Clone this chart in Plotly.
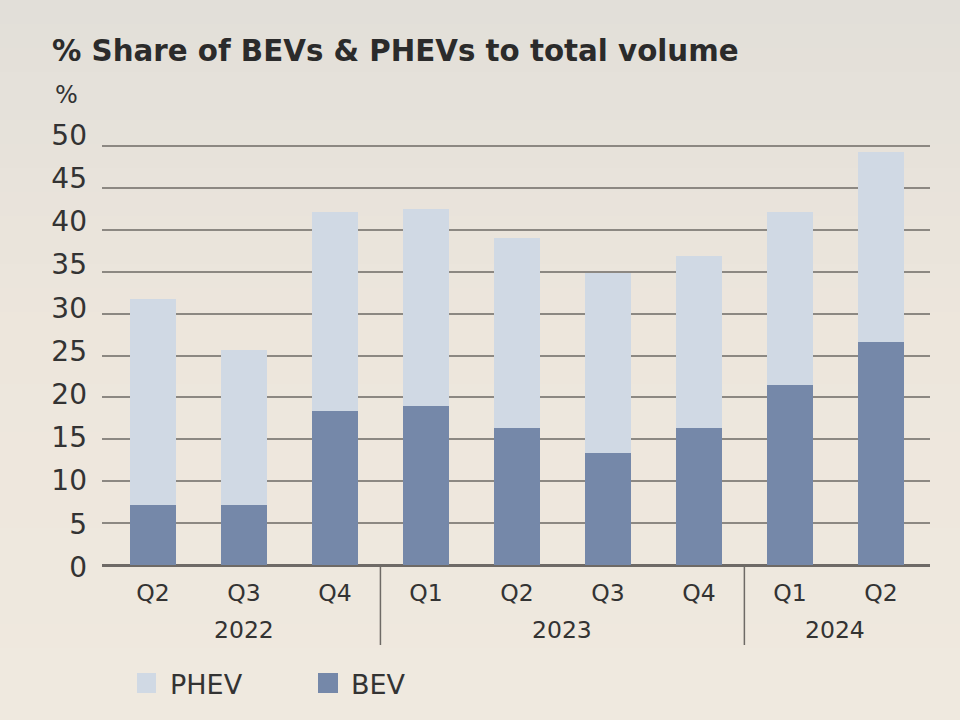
import plotly.graph_objects as go

years = ["2022", "2022", "2022", "2023", "2023", "2023", "2023", "2024", "2024"]
quarters = ["Q2", "Q3", "Q4", "Q1", "Q2", "Q3", "Q4", "Q1", "Q2"]
bev = [7.2, 7.2, 18.4, 19.0, 16.4, 13.4, 16.4, 21.5, 26.6]
phev = [24.6, 18.5, 23.7, 23.5, 22.6, 21.4, 20.5, 20.6, 22.7]
y_ticks = [0, 5, 10, 15, 20, 25, 30, 35, 40, 45, 50]

BEV_COLOR = "#7588A9"
PHEV_COLOR = "#D0D9E4"
TEXT = "#333333"
FONT = "DejaVu Sans, Liberation Sans, sans-serif"

W, H = 960, 720
L, R, T, B = 102, 30, 110, 148          # plot area: x 102..930, y 110..572
pw, ph = W - L - R, H - T - B
Y0_PX, UNIT_PX = 565, 8.38              # gridline scale
LBL0_PX, LBL_UNIT = 567, 8.64           # label scale (labels spread a bit wider)

def px(xp):
    return (xp - L) / pw

def py(yp):
    return (H - B - yp) / ph

y1_range = [-(H - B - Y0_PX) / UNIT_PX, (Y0_PX - T) / UNIT_PX]
y2_range = [-(H - B - LBL0_PX) / LBL_UNIT, (LBL0_PX - T) / LBL_UNIT]

xcats = [y + " " + q for y, q in zip(years, quarters)]

fig = go.Figure()
fig.add_trace(go.Bar(x=xcats, y=bev, name="BEV",
                     marker=dict(color=BEV_COLOR, line=dict(width=0))))
fig.add_trace(go.Bar(x=xcats, y=phev, name="PHEV",
                     marker=dict(color=PHEV_COLOR, line=dict(width=0))))
# invisible trace to activate label axis
fig.add_trace(go.Scatter(x=[xcats[0]], y=[0], yaxis="y2", mode="markers",
                         marker=dict(opacity=0), hoverinfo="skip", showlegend=False))

# background gradient bands
shapes = []
top_c = (226, 223, 217)
mid_c = (237, 230, 220)
bot_c = (239, 233, 223)
n = 30
for i in range(n):
    t = i / (n - 1)
    if t < 0.45:
        f = t / 0.45
        c = tuple(round(top_c[k] + (mid_c[k] - top_c[k]) * f) for k in range(3))
    else:
        f = (t - 0.45) / 0.55
        c = tuple(round(mid_c[k] + (bot_c[k] - mid_c[k]) * f) for k in range(3))
    shapes.append(dict(type="rect", xref="paper", yref="paper",
                       x0=px(0), x1=px(W), y0=py((i / n) * H), y1=py(((i + 1) / n) * H + 1),
                       fillcolor="rgb(%d,%d,%d)" % c, line=dict(width=0), layer="below"))

# year group dividers
for xd in [2.5, 6.5]:
    shapes.append(dict(type="line", xref="x", yref="paper", x0=xd, x1=xd,
                       y0=py(Y0_PX), y1=py(645), line=dict(color="#6e6a66", width=1.5)))

# custom legend swatches
shapes.append(dict(type="rect", xref="paper", yref="paper",
                   x0=px(137), x1=px(156), y0=py(673), y1=py(693),
                   fillcolor=PHEV_COLOR, line=dict(width=0)))
shapes.append(dict(type="rect", xref="paper", yref="paper",
                   x0=px(318), x1=px(338), y0=py(673), y1=py(693),
                   fillcolor=BEV_COLOR, line=dict(width=0)))

annotations = [
    dict(text="%", xref="paper", yref="paper", x=px(53), y=py(95),
         xanchor="left", yanchor="middle", showarrow=False,
         font=dict(family=FONT, size=24, color=TEXT)),
    dict(text="PHEV", xref="paper", yref="paper", x=px(168), y=py(684),
         xanchor="left", yanchor="middle", showarrow=False,
         font=dict(family=FONT, size=27, color=TEXT)),
    dict(text="BEV", xref="paper", yref="paper", x=px(349), y=py(684),
         xanchor="left", yanchor="middle", showarrow=False,
         font=dict(family=FONT, size=27, color=TEXT)),
]
# year labels centred under their quarters
groups = []
for i, yv in enumerate(years):
    if not groups or groups[-1][0] != yv:
        groups.append([yv, i, i])
    else:
        groups[-1][2] = i
for yv, a, b in groups:
    annotations.append(dict(text=yv, xref="x", yref="paper", x=(a + b) / 2, y=py(630),
                            xanchor="center", yanchor="middle", showarrow=False,
                            font=dict(family=FONT, size=23.5, color=TEXT)))

fig.update_layout(
    width=W, height=H,
    margin=dict(l=L, r=R, t=T, b=B),
    barmode="stack", bargap=0.5,
    paper_bgcolor="#ECE6DC", plot_bgcolor="rgba(0,0,0,0)",
    showlegend=False,
    title=dict(text="<b>% Share of BEVs & PHEVs to total volume</b>",
               xref="container", yref="container", x=52 / W, y=1 - 51 / H,
               xanchor="left", yanchor="middle",
               font=dict(family="DejaVu Sans, sans-serif", size=29.3, color="#2b2b2b")),
    xaxis=dict(type="category", range=[-0.56, 8.54],
               tickvals=xcats, ticktext=quarters,
               showgrid=False, showline=False, zeroline=False,
               ticks="", ticklabelstandoff=4,
               tickfont=dict(family=FONT, size=23.5, color=TEXT)),
    yaxis=dict(range=y1_range, tickvals=y_ticks, showgrid=True,
               gridcolor="#8C8882", gridwidth=2, zeroline=True,
               zerolinecolor="#6e6a66", zerolinewidth=2.5,
               showticklabels=False, ticks=""),
    yaxis2=dict(range=y2_range, tickvals=y_ticks, overlaying="y", side="left",
                showgrid=False, zeroline=False, showline=False, ticks="",
                ticklabelstandoff=14,
                tickfont=dict(family=FONT, size=28, color=TEXT)),
    shapes=shapes, annotations=annotations,
)

fig.write_html("out.html", config={"displayModeBar": False},
               post_script="document.body.style.margin='0';document.body.style.overflow='hidden';")
